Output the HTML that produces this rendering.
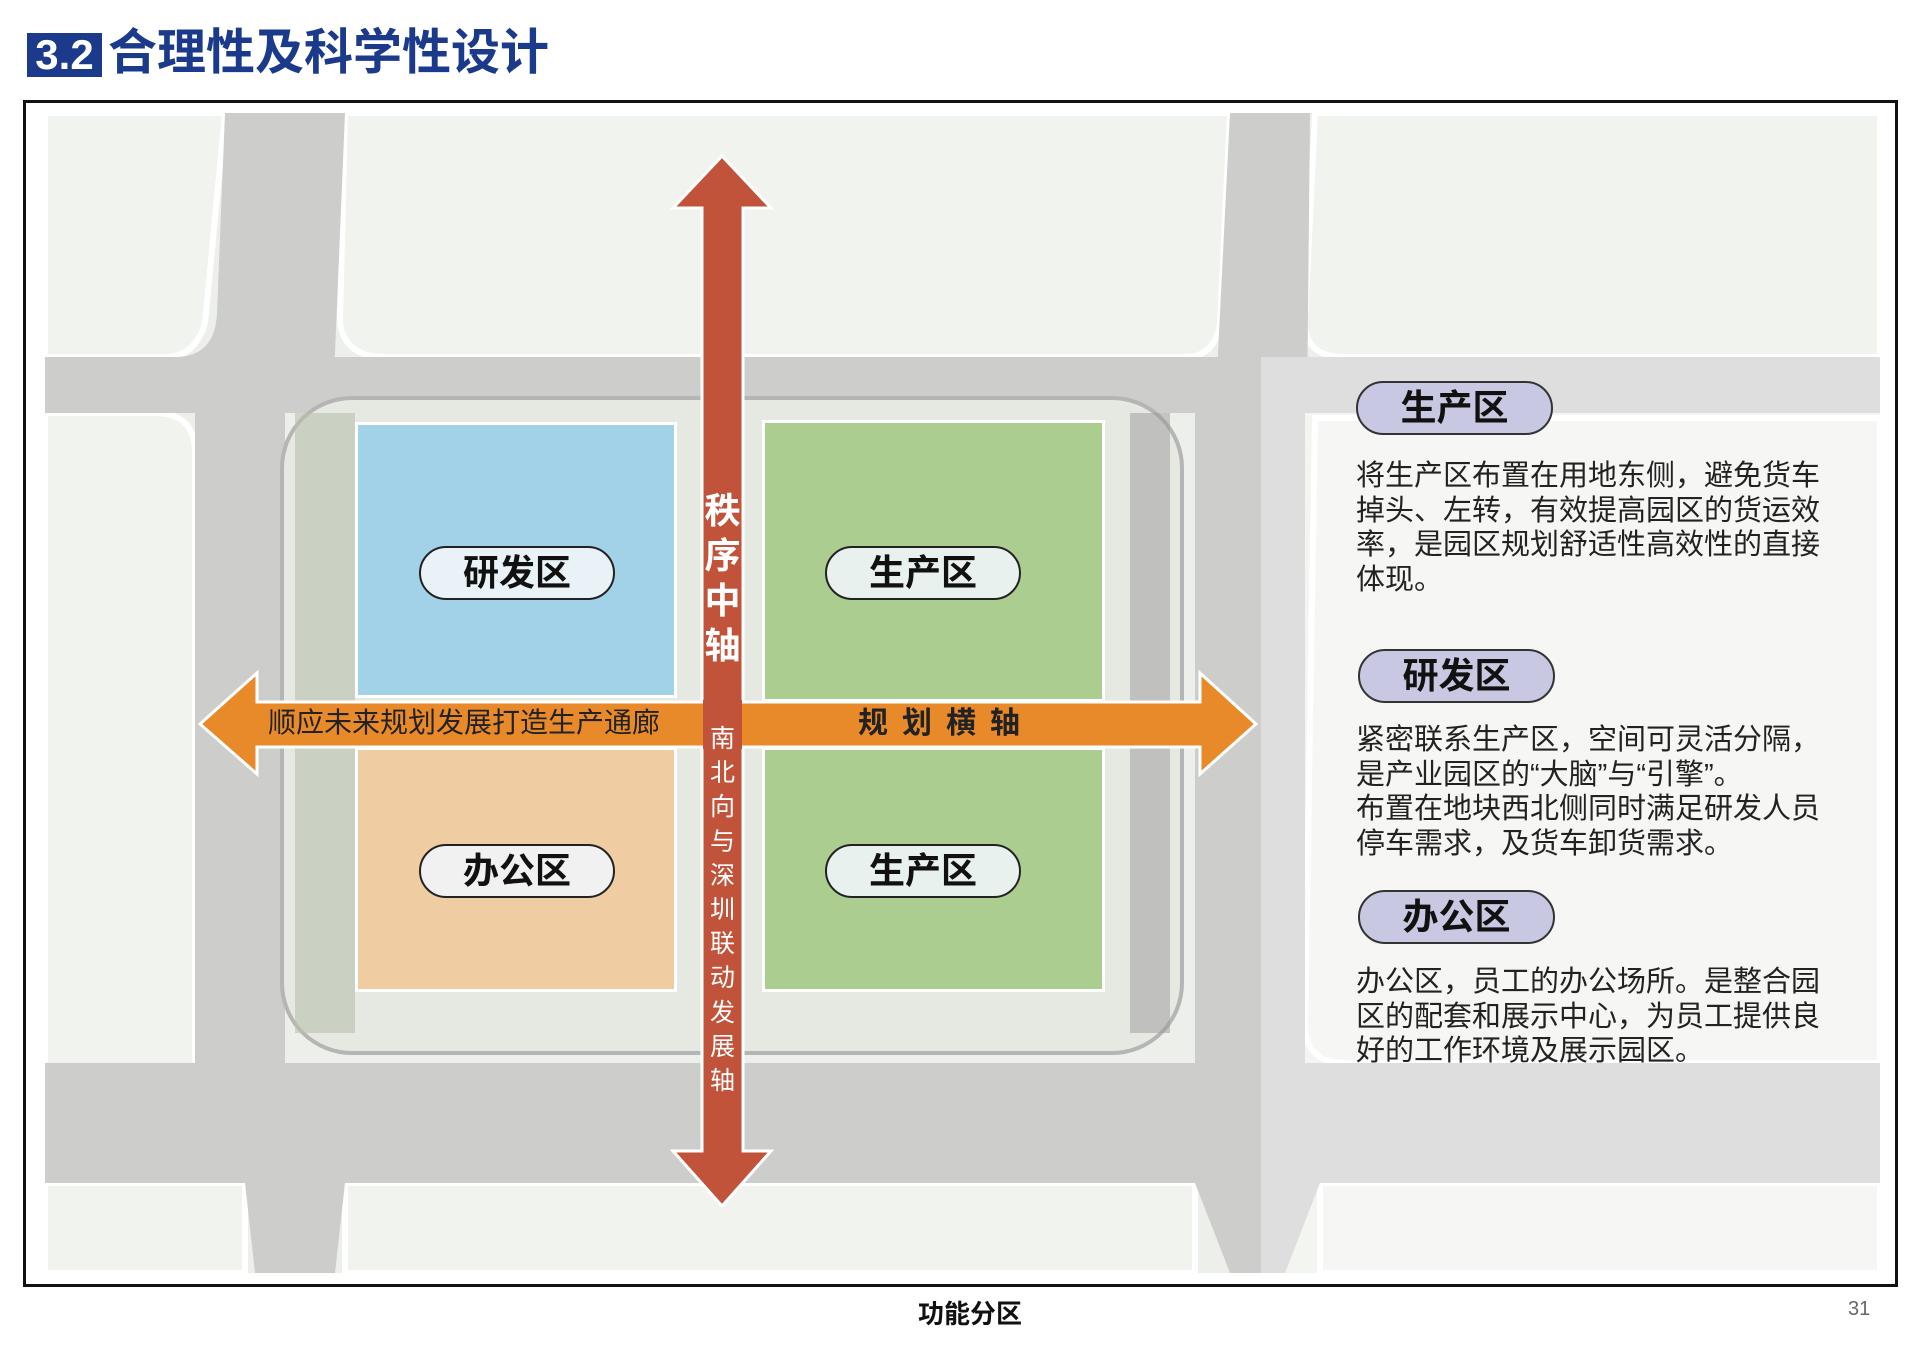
<!DOCTYPE html>
<html><head><meta charset="utf-8"><style>
*{margin:0;padding:0;box-sizing:border-box}
body{width:1920px;height:1352px;background:#fff;position:relative;overflow:hidden;font-family:"Liberation Sans","Noto Sans CJK SC",sans-serif}
.a{position:absolute}
.pill{position:absolute;border:2px solid #222;border-radius:27px;font-weight:bold;font-size:36px;text-align:center;color:#111;line-height:50px}
.zl{background:rgba(240,245,248,.9)}
.pr{background:#c8c8e2;border-color:#333}
.t{position:absolute;left:1356px;font-size:29px;line-height:34.5px;color:#222;letter-spacing:0;white-space:nowrap}
</style></head><body>
<div class="a" style="left:27px;top:33px;width:75px;height:44px;background:#1b3a8c;color:#fff;font-weight:bold;font-size:42px;line-height:44px;text-align:center">3.2</div>
<div class="a" style="left:108px;top:24px;font-size:49px;font-weight:bold;color:#1b3a8c;line-height:58px">合理性及科学性设计</div>

<div class="a" style="left:23px;top:100px;width:1875px;height:1187px;border:3px solid #111;background:#fff"></div>
<svg class="a" style="left:45px;top:113px" width="1835" height="1160">
<rect width="1835" height="1160" fill="#edf0ea"/>
<g fill="#f1f3ee" stroke="#fff" stroke-width="6">
<path d="M0 0 H180 L160 210 Q150 244 120 244 H0Z"/>
<path d="M300 0 H1185 L1175 210 Q1170 244 1140 244 H340 Q300 244 295 210Z"/>
<path d="M1270 0 H1835 V244 H1300 Q1260 244 1260 210Z"/>
<path d="M0 300 H110 Q150 300 150 340 V1000 H0Z"/>
<path d="M1270 305 H1835 V950 H1300 Q1260 950 1260 910Z"/>
<path d="M0 1070 H200 V1160 H0Z"/>
<path d="M300 1070 H1150 V1160 H300Z"/>
<path d="M1275 1070 H1835 V1160 H1275Z"/>
</g>
<g fill="#cdcdcc">
<rect x="0" y="244" width="1835" height="56"/>
<path d="M180 0 H300 L290 240 Q285 300 340 300 H0 V244 H130 Q170 244 172 200Z"/>
<rect x="150" y="300" width="90" height="770"/>
<rect x="0" y="950" width="1835" height="120"/>
<path d="M1185 0 H1265 L1262 300 H1170Z"/>
<rect x="1150" y="300" width="110" height="770"/>
<path d="M200 1070 H300 L290 1160 H210Z"/>
<path d="M1150 1070 H1275 L1240 1160 H1185Z"/>
</g>
<rect x="1216" y="244" width="619" height="916" fill="#fff" opacity=".35"/>
<rect x="237" y="285" width="900" height="655" rx="70" fill="#e6e8e2" stroke="#b5b5b5" stroke-width="4"/>
<rect x="250" y="300" width="60" height="620" fill="#b9c2ae" opacity=".6"/>
<rect x="1085" y="300" width="40" height="620" fill="#9a9a9a" opacity=".5"/>
</svg>
<div class="a" style="left:355px;top:422px;width:322px;height:276px;background:rgba(115,195,235,.6);border:3px solid #fff"></div>
<div class="a" style="left:355px;top:747px;width:322px;height:245px;background:rgba(245,185,120,.6);border:3px solid #fff"></div>
<div class="a" style="left:762px;top:420px;width:343px;height:282px;background:rgba(140,190,100,.65);border:3px solid #fff"></div>
<div class="a" style="left:762px;top:747px;width:343px;height:245px;background:rgba(140,190,100,.65);border:3px solid #fff"></div>
<div class="pill zl" style="left:419px;top:546px;width:196px;height:54px">研发区</div>
<div class="pill zl" style="left:825px;top:546px;width:196px;height:54px">生产区</div>
<div class="pill zl" style="left:419px;top:844px;width:196px;height:54px">办公区</div>
<div class="pill zl" style="left:825px;top:844px;width:196px;height:54px">生产区</div>
<svg class="a" style="left:0;top:0" width="1920" height="1352">
<polygon points="722,156 771,208 743,208 743,1151 771,1151 722,1206 673,1151 702,1151 702,208 673,208" fill="#c0533a" stroke="#fff" stroke-width="3"/>
<polygon points="200,724 257,673 257,702 1200,702 1200,673 1256,724 1200,774 1200,747 257,747 257,774" fill="#e98a2a" stroke="#fff" stroke-width="3"/>
<rect x="703" y="700" width="39" height="49" fill="#c0533a"/>
</svg>
<div class="a" style="left:702px;top:488px;width:41px;font-size:36px;font-weight:bold;color:#fff;line-height:45px;text-align:center">秩<br>序<br>中<br>轴</div>
<div class="a" style="left:702px;top:722px;width:41px;font-size:25px;color:#fff;line-height:34.2px;text-align:center">南<br>北<br>向<br>与<br>深<br>圳<br>联<br>动<br>发<br>展<br>轴</div>
<div class="a" style="left:268px;top:705px;font-size:28px;color:#222;line-height:36px;white-space:nowrap">顺应未来规划发展打造生产通廊</div>
<div class="a" style="left:830px;top:704px;width:232px;text-align:center;font-size:30px;color:#222;line-height:40px;font-weight:bold;letter-spacing:14px">规划横轴</div>
<div class="pill pr" style="left:1356px;top:381px;width:197px;height:54px">生产区</div>
<div class="t" style="top:459px">将生产区布置在用地东侧，避免货车<br>掉头、左转，有效提高园区的货运效<br>率，是园区规划舒适性高效性的直接<br>体现。</div>
<div class="pill pr" style="left:1358px;top:649px;width:197px;height:54px">研发区</div>
<div class="t" style="top:723px">紧密联系生产区，空间可灵活分隔，<br>是产业园区的“大脑”与“引擎”。<br>布置在地块西北侧同时满足研发人员<br>停车需求，及货车卸货需求。</div>
<div class="pill pr" style="left:1358px;top:890px;width:197px;height:54px">办公区</div>
<div class="t" style="top:965px">办公区，员工的办公场所。是整合园<br>区的配套和展示中心，为员工提供良<br>好的工作环境及展示园区。</div>
<div class="a" style="left:870px;top:1294px;width:200px;text-align:center;font-size:26px;font-weight:bold;color:#111">功能分区</div>
<div class="a" style="left:1848px;top:1298px;font-size:20px;color:#666">31</div>
</body></html>
